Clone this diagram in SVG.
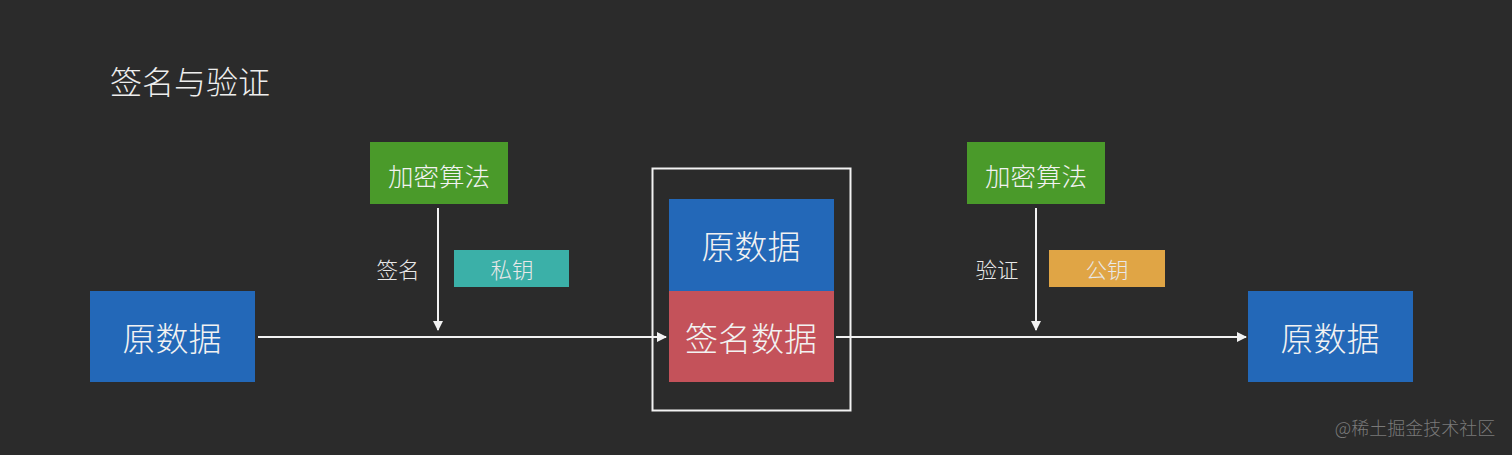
<svg xmlns="http://www.w3.org/2000/svg" width="1512" height="455" viewBox="0 0 1512 455">
<style>
text{font-family:"Noto Sans CJK SC","Noto Sans",sans-serif;text-anchor:middle;dominant-baseline:central;font-weight:300;}
.big{font-size:33px;fill:#f2f2f2;}
.mid{font-size:25.500px;fill:#f2f2f2;}
.lab{font-size:21.500px;fill:#e8e8e8;}
.conn{stroke:#f2f2f2;stroke-width:2;fill:none;}
</style>
<defs>
<marker id="ah" viewBox="0 0 10 10" refX="9" refY="5" markerWidth="10" markerHeight="10" markerUnits="userSpaceOnUse" orient="auto">
<path d="M0,0 L10,5 L0,10 z" fill="#f2f2f2"/>
</marker>
</defs>
<rect width="1512" height="455" fill="#2b2b2b"/>
<text x="190" y="80" style="font-size:32px;fill:#eeeeee">签名与验证</text>
<g id="connectors">
<line class="conn" x1="258" y1="337" x2="666" y2="337" marker-end="url(#ah)"/>
<line class="conn" x1="836" y1="337" x2="1246" y2="337" marker-end="url(#ah)"/>
<line class="conn" x1="438" y1="208" x2="438" y2="330" marker-end="url(#ah)"/>
<line class="conn" x1="1036" y1="208" x2="1036" y2="330" marker-end="url(#ah)"/>
<text class="lab" x="398" y="268">签名</text>
<text class="lab" x="997" y="268">验证</text>
</g>
<g id="src">
<rect x="90" y="291" width="165" height="91" fill="#2368b8"/>
<text class="big" x="172" y="337">原数据</text>
</g>
<g id="alg1">
<rect x="370" y="142" width="138" height="62" fill="#4a9a2a"/>
<text class="mid" x="439" y="174">加密算法</text>
</g>
<g id="privkey">
<rect x="454" y="250" width="115" height="37" fill="#3bb0a8"/>
<text class="lab" x="512" y="268">私钥</text>
</g>
<g id="bundle">
<rect x="652.500" y="168.500" width="198" height="242" fill="none" stroke="#f2f2f2" stroke-width="2"/>
<rect x="669" y="199" width="165" height="92" fill="#2368b8"/>
<text class="big" x="751" y="245">原数据</text>
<rect x="669" y="291" width="165" height="91" fill="#c4525a"/>
<text class="big" x="751" y="337">签名数据</text>
</g>
<g id="alg2">
<rect x="967" y="142" width="138" height="62" fill="#4a9a2a"/>
<text class="mid" x="1036" y="174">加密算法</text>
</g>
<g id="pubkey">
<rect x="1049" y="250" width="116" height="37" fill="#e0a545"/>
<text class="lab" x="1107" y="268">公钥</text>
</g>
<g id="dst">
<rect x="1248" y="291" width="165" height="91" fill="#2368b8"/>
<text class="big" x="1330" y="337">原数据</text>
</g>
<text x="1415" y="427" style="font-size:18px;fill:#7a7a7a">@稀土掘金技术社区</text>
</svg>
